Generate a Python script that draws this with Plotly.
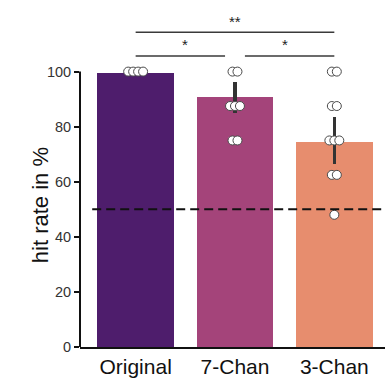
import plotly.graph_objects as go

# Condition names and mean hit rates (%)
conditions = ["Original", "7-Chan", "3-Chan"]
mean_hit_rate = [99.5, 90.8, 74.6]
ci_upper = [99.5, 96.2, 83.5]
ci_lower = [99.5, 85.0, 66.4]

# Individual participant hit rates (%)
subjects_original = [100, 100, 100, 100]
subjects_7chan = [100, 100, 87.5, 87.5, 87.5, 75, 75]
subjects_3chan = [100, 100, 87.5, 87.5, 75, 75, 75, 62.5, 62.5, 48]

chance_level = 50
y_ticks = [0, 20, 40, 60, 80, 100]

# Pairwise comparisons: (left index, right index, label, level)
comparisons = [(0, 1, "*", 0), (1, 2, "*", 0), (0, 2, "**", 1)]

bar_colors = ["#4e1d6c", "#a4447a", "#e78d6e"]
FONT = "Liberation Sans, Arial, sans-serif"

fig = go.Figure()

fig.add_trace(go.Bar(
    x=list(range(len(conditions))),
    y=mean_hit_rate,
    width=0.77,
    marker=dict(color=bar_colors, line=dict(width=0)),
    error_y=dict(
        type="data", symmetric=False,
        array=[u - m for u, m in zip(ci_upper, mean_hit_rate)],
        arrayminus=[m - l for m, l in zip(mean_hit_rate, ci_lower)],
        color="#333333", thickness=3.5, width=0,
    ),
    showlegend=False,
))


def spread(values, center, step=0.05):
    """Place equal values side by side around the category centre."""
    counts = {}
    for v in values:
        counts[v] = counts.get(v, 0) + 1
    seen = {}
    xs = []
    for v in values:
        n = counts[v]
        i = seen.get(v, 0)
        seen[v] = i + 1
        xs.append(center + (i - (n - 1) / 2) * step)
    return xs


for idx, vals in enumerate([subjects_original, subjects_7chan, subjects_3chan]):
    fig.add_trace(go.Scatter(
        x=spread(vals, idx),
        y=vals,
        mode="markers",
        marker=dict(size=9, color="white", line=dict(color="#4a4a4a", width=1)),
        showlegend=False,
        cliponaxis=False,
    ))

shapes = []
# Chance level
shapes.append(dict(type="line", xref="paper", yref="y", x0=0.04, x1=1,
                   y0=chance_level, y1=chance_level, layer="above",
                   line=dict(color="#111111", width=2, dash="9px,5px")))
# Trimmed y spine from 0 to 100
shapes.append(dict(type="line", xref="paper", yref="y", x0=0, x1=0,
                   y0=0, y1=100, line=dict(color="#111111", width=2)))

annotations = []
for a, b, label, level in comparisons:
    y_line = 105.7 + level * 8.6
    gap = 0.1 if level == 0 else 0
    x0 = a + (gap if a > 0 else 0)
    x1 = b - (gap if b < 2 else 0)
    shapes.append(dict(type="line", xref="x", yref="y", x0=x0, x1=x1,
                       y0=y_line, y1=y_line,
                       line=dict(color="#3a3a3a", width=1.5)))
    annotations.append(dict(x=(a + b) / 2, y=y_line + 0.2, xref="x", yref="y",
                            text=label, showarrow=False, yanchor="bottom",
                            font=dict(size=15, color="#222222", family=FONT)))

annotations.append(dict(x=-0.131, y=51.5, xref="paper", yref="y",
                        xanchor="center", yanchor="middle",
                        text="hit rate in %", textangle=-90, showarrow=False,
                        font=dict(size=22, color="#111111", family=FONT)))

fig.update_layout(
    width=385, height=383,
    margin=dict(l=80, r=0, t=0, b=36),
    paper_bgcolor="white", plot_bgcolor="white",
    bargap=0,
    shapes=shapes,
    annotations=annotations,
    xaxis=dict(
        range=[-0.56, 2.51],
        tickvals=list(range(len(conditions))),
        ticktext=conditions,
        showline=True, linecolor="#111111", linewidth=2,
        ticks="", showgrid=False, zeroline=False,
        tickfont=dict(size=21, color="#111111", family=FONT),
    ),
    yaxis=dict(
        range=[0, 126],
        tickvals=y_ticks,
        showline=False, showgrid=False, zeroline=False,
        ticks="outside", ticklen=5, tickwidth=2, tickcolor="#111111",
        tickfont=dict(size=14.5, color="#333333", family=FONT),
    ),
)

fig.write_html("out.html")
